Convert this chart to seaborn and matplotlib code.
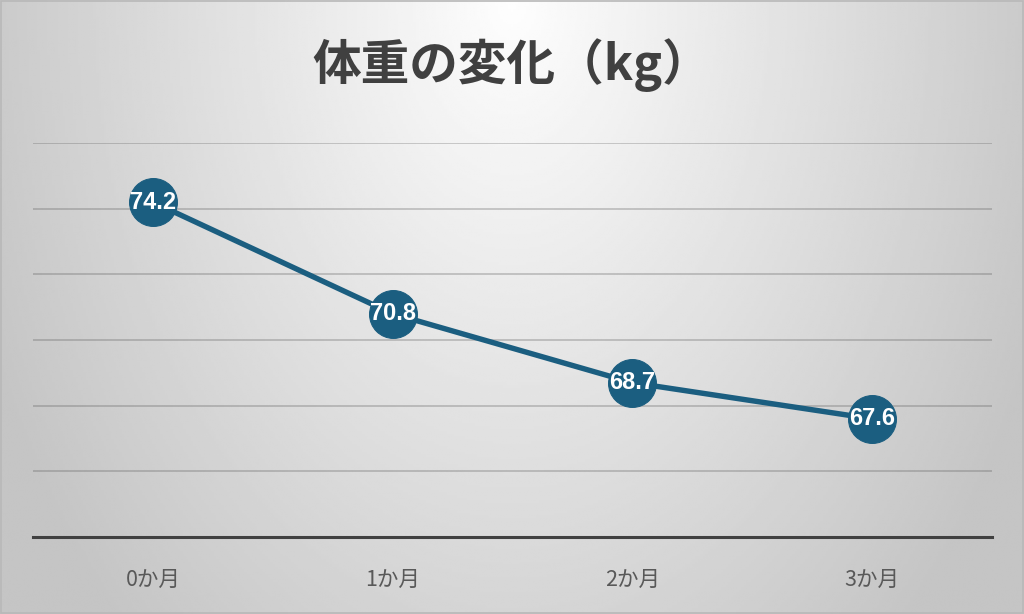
import numpy as np
import pandas as pd
import matplotlib
matplotlib.use("Agg")
import matplotlib.pyplot as plt
import seaborn as sns

months = ["0か月", "1か月", "2か月", "3か月"]
weights = [74.2, 70.8, 68.7, 67.6]
title = "体重の変化（kg）"
y_min, y_max, y_step = 64, 76, 2

sns.set_theme(style="white")
plt.rcParams['font.family'] = ['Noto Sans CJK JP', 'DejaVu Sans']

W, H = 1024, 614
fig = plt.figure(figsize=(W / 100, H / 100), dpi=100)

# radial gradient background
bg = fig.add_axes([0, 0, 1, 1], zorder=-10)
xx, yy = np.meshgrid(np.linspace(0, 1, 400), np.linspace(0, 1, 240))
d = np.sqrt(((xx - 0.5) / 0.5) ** 2 + (yy / 1.25) ** 2)
val = np.clip(0.995 - 0.2 * d, 0.77, 1.0)
bg.imshow(val, cmap="gray", vmin=0, vmax=1, aspect="auto", origin="upper",
          extent=[0, 1, 0, 1], interpolation="bilinear")
bg.set_xlim(0, 1); bg.set_ylim(0, 1)
bg.axis("off")
# thin outer border
bg.add_patch(plt.Rectangle((0.0005, 0.001), 0.999, 0.998, fill=False,
                           edgecolor="#b8b8b8", linewidth=1.2,
                           transform=bg.transAxes))

ax = fig.add_axes([33 / W, 1 - 537 / H, (992 - 33) / W, (537 - 143) / H])
ax.set_facecolor("none")

df = pd.DataFrame({"month": months, "weight": weights})

for gy in np.arange(y_min + y_step, y_max + 0.1, y_step):
    ax.axhline(gy, color="#555555", alpha=0.3, linewidth=1.3, zorder=1)

sns.lineplot(data=df, x="month", y="weight", ax=ax, color="#1b5e80",
             linewidth=3.9, marker="o", markersize=34.5,
             markeredgecolor="#1b5e80", zorder=3, sort=False)

for i, (m, w) in enumerate(zip(months, weights)):
    ax.text(i, w, f"{w:.1f}", ha="center", va="center", color="white",
            fontsize=17, fontweight="bold", family=["Liberation Sans"],
            zorder=5)

ax.set_xlim(-0.5, len(months) - 0.5)
ax.set_ylim(y_min, y_max)
ax.set_yticks([])
ax.set_xlabel("")
ax.set_ylabel("")
for s in ["top", "left", "right"]:
    ax.spines[s].set_visible(False)
ax.spines["bottom"].set_color("#404040")
ax.spines["bottom"].set_linewidth(2.2)
ax.tick_params(axis="x", length=0, pad=23, labelsize=15.5, labelcolor="#595959")
ax.set_clip_on(False)

fig.text(0.5, 1 - 65 / H, title, ha="center", va="center", fontsize=35,
         fontweight="bold", color="#404040")

fig.savefig("out.png", dpi=100)
